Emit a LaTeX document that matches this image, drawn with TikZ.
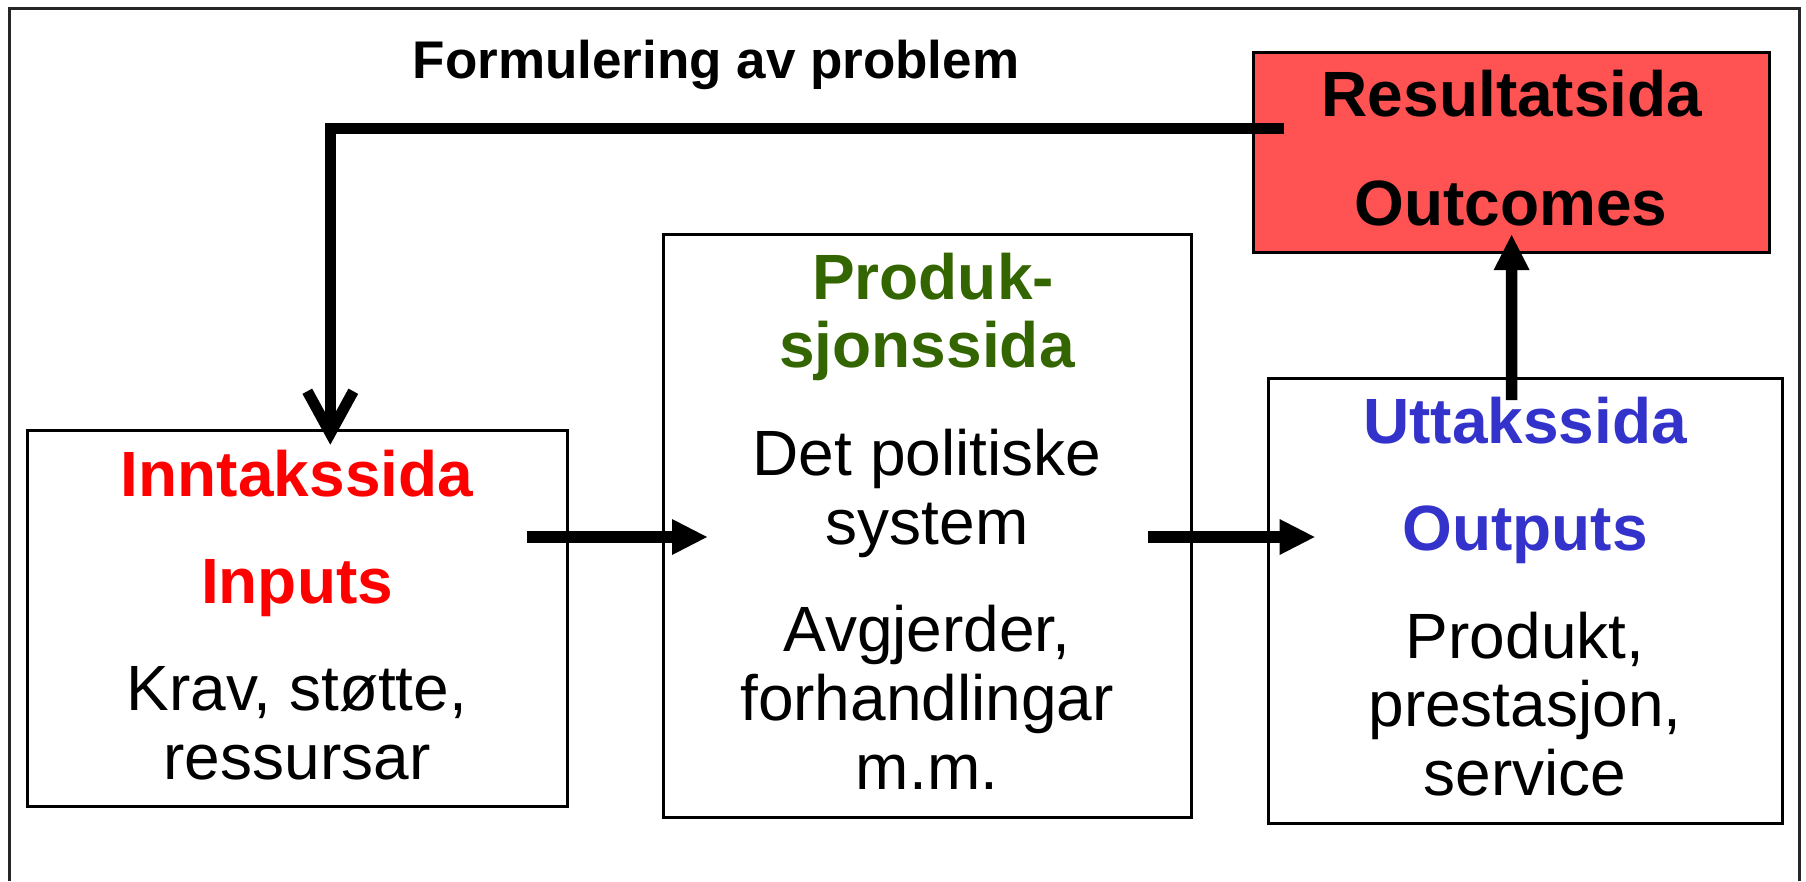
\documentclass[tikz,border=0pt]{standalone}
\usepackage{fontspec}
\setmainfont{Liberation Sans}
\usetikzlibrary{arrows.meta,calc}
\definecolor{inred}{RGB}{255,0,0}
\definecolor{prodgreen}{RGB}{51,102,0}
\definecolor{outblue}{RGB}{51,51,204}
\definecolor{resfill}{RGB}{255,82,82}
\begin{document}
\begin{tikzpicture}[x=1pt,y=-1pt,
  box/.style={draw=black, line width=3pt, inner sep=0pt, outer sep=0pt},
  head/.style={anchor=base, font=\fontsize{64}{70}\selectfont\bfseries, inner sep=0pt},
  body/.style={anchor=base, font=\fontsize{64}{70}\selectfont, inner sep=0pt},
  flow/.style={line width=11.5pt, -{Triangle[length=35pt,width=36pt,line width=0pt]}},
  feedback/.style={line width=11pt, line join=miter, -{Straight Barb[length=42pt,width=46pt]}}
]
\useasboundingbox (0,0) rectangle (1806,881);
\draw[line width=3pt, black!85] (9,881) -- (9,8) -- (1799,8) -- (1799,881);

% boxes
\node[box, minimum width=539.5pt, minimum height=376pt] (inn) at (297.3,618.7) {};
\node[box, minimum width=528.6pt, minimum height=583pt] (prod) at (927.3,525.5) {};
\node[box, minimum width=513.3pt, minimum height=445pt] (out) at (1525.4,600.5) {};
\node[box, fill=resfill, minimum width=516pt, minimum height=200pt] (res) at (1511.6,152) {};

% title
\node[anchor=base, font=\fontsize{53}{60}\selectfont\bfseries, inner sep=0pt] (title) at (716,78) {Formulering av problem};

% Inntakssida
\node[head, text=inred] (innT) at (297,496.7) {Inntakssida};
\node[head, text=inred] (innI) at (297,603) {Inputs};
\node[body] (innB1) at (297,710.7) {Krav, støtte,};
\node[body] (innB2) at (297,779) {ressursar};

% Produksjonssida
\node[head, text=prodgreen] (prodT1) at (933,299) {Produk-};
\node[head, text=prodgreen] (prodT2) at (927,367) {sjonssida};
\node[body] (prodB1) at (927,475) {Det politiske};
\node[body] (prodB2) at (927,544) {system};
\node[body] (prodB3) at (927,651.7) {Avgjerder,};
\node[body] (prodB4) at (927,720.7) {forhandlingar};
\node[body] (prodB5) at (927,789.3) {m.m.};

% Uttakssida
\node[head, text=outblue] (outT) at (1525,443) {Uttakssida};
\node[head, text=outblue] (outO) at (1525,550) {Outputs};
\node[body] (outB1) at (1525,658) {Produkt,};
\node[body] (outB2) at (1525,726.7) {prestasjon,};
\node[body] (outB3) at (1525,795) {service};

% Resultatsida
\node[head] (resT) at (1512,116.7) {Resultatsida};
\node[head] (resO) at (1511,225) {Outcomes};

% connectors
\coordinate (fbS) at ($(res.west)+(30,-24)$);
\coordinate (fbE) at ($(inn.north)+(33,14)$);
\draw[feedback] (fbS) -| (fbE);

\draw[flow] ($(inn.east)+(-40,-81.7)$) -- ($(prod.west)+(44,11.5)$);
\draw[flow] ($(prod.east)+(-44,11.5)$) -- ($(out.west)+(45.8,-63.5)$);
\draw[flow] ($(out.north)+(-13.8,22)$) -- ($(res.south)+(0,-17)$);
\end{tikzpicture}
\end{document}
